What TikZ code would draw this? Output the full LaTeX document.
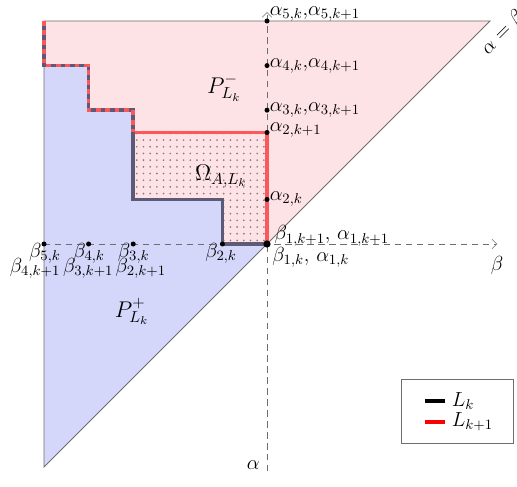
\RequirePackage{fix-cm}
\documentclass[tikz,border=0pt]{standalone}
\usetikzlibrary{arrows.meta}
\definecolor{pinkfill}{RGB}{253,226,230}
\definecolor{bluefill}{RGB}{212,214,250}
\definecolor{redline}{RGB}{252,88,92}
\definecolor{darkline}{RGB}{92,90,118}
\definecolor{dotcol}{RGB}{140,118,126}
\definecolor{edgegray}{RGB}{110,110,110}
\tikzset{
  axisline/.style={draw=edgegray, thin, dash pattern=on 4pt off 3pt},
  lk/.style={draw=darkline, line width=2.4pt},
  lkone/.style={draw=redline, line width=2.4pt},
  pt/.style={circle, fill=black, inner sep=0pt, minimum size=3.2pt},
  bigpt/.style={circle, fill=black, inner sep=0pt, minimum size=4.6pt},
  lbl/.style={font=\fontsize{13}{15}\selectfont, inner sep=1pt},
  reglbl/.style={font=\fontsize{14.5}{17}\selectfont},
}
\begin{document}
\begin{tikzpicture}[x=1cm,y=1cm]
\useasboundingbox (-5.987,-5.448) rectangle (5.605,5.471);
% corners
\coordinate (TL) at (-5,5);
\coordinate (TR) at (5,5);
\coordinate (BL) at (-5,-5);
\coordinate (O) at (0,0);
% fills
\fill[pinkfill] (TL) -- (TR) -- (BL) -- cycle;
\fill[bluefill] (-5,4) -- (-4,4) -- (-4,3) -- (-3,3) -- (-3,1) -- (-1,1) -- (-1,0) -- (O) -- (BL) -- cycle;
% dotted Omega
\begin{scope}
\clip (-3,2.5) -- (0,2.5) -- (0,0) -- (-1,0) -- (-1,1) -- (-3,1) -- cycle;
\foreach \i in {0,...,20} {
  \foreach \j in {0,...,17} {
    \fill[dotcol] (-3+0.08+\i*0.15, 0.08+\j*0.15) circle (0.6pt);
  }
}
\end{scope}
% triangle border
\draw[edgegray, line width=0.5pt] (TL) -- (TR) -- (BL) -- cycle;
% axes
\coordinate (betaend) at (5.16,0);
\coordinate (alphatop) at (0,5.2);
\coordinate (alphabot) at (0,-5.1);
\coordinate (betastart) at (-5,0);
\draw[axisline, -{Straight Barb[length=3pt,width=6pt]}] (betastart) -- (betaend);
\draw[axisline, -{Straight Barb[length=3pt,width=6pt]}] (alphabot) -- (alphatop);
% staircases
\draw[lkone] (TL) -- (-5,4) -- (-4,4) -- (-4,3) -- (-3,3) -- (-3,2.5) -- (0,2.5) -- (O);
\draw[lk] (TL) -- (-5,4) -- (-4,4) -- (-4,3) -- (-3,3) -- (-3,1) -- (-1,1) -- (-1,0) -- (O);
\draw[lkone, dash pattern=on 3pt off 3pt] (TL) -- (-5,4) -- (-4,4) -- (-4,3) -- (-3,3) -- (-3,2.5);
% points
\node[pt] (a5) at (0,5) {};
\node[pt] (a4) at (0,4) {};
\node[pt] (a3) at (0,3) {};
\node[pt] (a2k1) at (0,2.5) {};
\node[pt] (a2k) at (0,1) {};
\node[bigpt] (o) at (O) {};
\node[pt] (b5) at (-5,0) {};
\node[pt] (b4) at (-4,0) {};
\node[pt] (b3) at (-3,0) {};
\node[pt] (b2) at (-1,0) {};
% point labels
\node[lbl, anchor=west] (la5) at (0.02,5.16) {$\alpha_{5,k},\!\alpha_{5,k+1}$};
\node[lbl, anchor=west] (la4) at (0.02,4.0) {$\alpha_{4,k},\!\alpha_{4,k+1}$};
\node[lbl, anchor=west] (la3) at (0.02,3.0) {$\alpha_{3,k},\!\alpha_{3,k+1}$};
\node[lbl, anchor=west] (la2k1) at (0.02,2.55) {$\alpha_{2,k+1}$};
\node[lbl, anchor=west] (la2k) at (0.02,1.0) {$\alpha_{2,k}$};
\node[lbl, anchor=base west] (lb1k1) at (0.13,0.09) {$\beta_{1,k+1},\, \alpha_{1,k+1}$};
\node[lbl, anchor=base west] (lb1k) at (0.08,-0.40) {$\beta_{1,k},\, \alpha_{1,k}$};
\node[lbl, anchor=base] (lb5) at (-4.98,-0.30) {$\beta_{5,k}$};
\node[lbl, anchor=base] (lb4) at (-3.99,-0.30) {$\beta_{4,k}$};
\node[lbl, anchor=base] (lb3) at (-2.99,-0.30) {$\beta_{3,k}$};
\node[lbl, anchor=base] (lb2) at (-1.03,-0.30) {$\beta_{2,k}$};
\node[lbl, anchor=base] (lb4k1) at (-5.2,-0.64) {$\beta_{4,k+1}$};
\node[lbl, anchor=base] (lb3k1) at (-4.01,-0.64) {$\beta_{3,k+1}$};
\node[lbl, anchor=base] (lb2k1) at (-2.83,-0.64) {$\beta_{2,k+1}$};
% axis labels
\node[lbl] (betalbl) at (5.16,-0.47) {$\beta$};
\node[lbl] (alphalbl) at (-0.31,-4.96) {$\alpha$};
\node[lbl, rotate=45] (diag) at (5.29,4.73) {$\alpha=\beta$};
% region labels
\node[reglbl] (pminus) at (-0.96,3.50) {$P^-_{L_k}$};
\node[reglbl] (omega) at (-1.03,1.52) {$\Omega_{A,L_k}$};
\node[reglbl] (pplus) at (-3.03,-1.52) {$P^+_{L_k}$};
% legend
\node[draw=edgegray, line width=0.6pt, minimum width=2.49cm, minimum height=1.435cm, inner sep=0pt] (legend) at (4.27,-3.745) {};
\coordinate (l1a) at (3.54,-3.52);
\coordinate (l1b) at (3.99,-3.52);
\coordinate (l2a) at (3.54,-3.99);
\coordinate (l2b) at (3.99,-3.99);
\draw[black, line width=2.4pt] (l1a) -- (l1b);
\draw[red, line width=2.4pt] (l2a) -- (l2b);
\node[lbl, anchor=west] (leg1) at (4.1,-3.52) {$L_k$};
\node[lbl, anchor=west] (leg2) at (4.1,-3.99) {$L_{k+1}$};
\end{tikzpicture}
\end{document}
